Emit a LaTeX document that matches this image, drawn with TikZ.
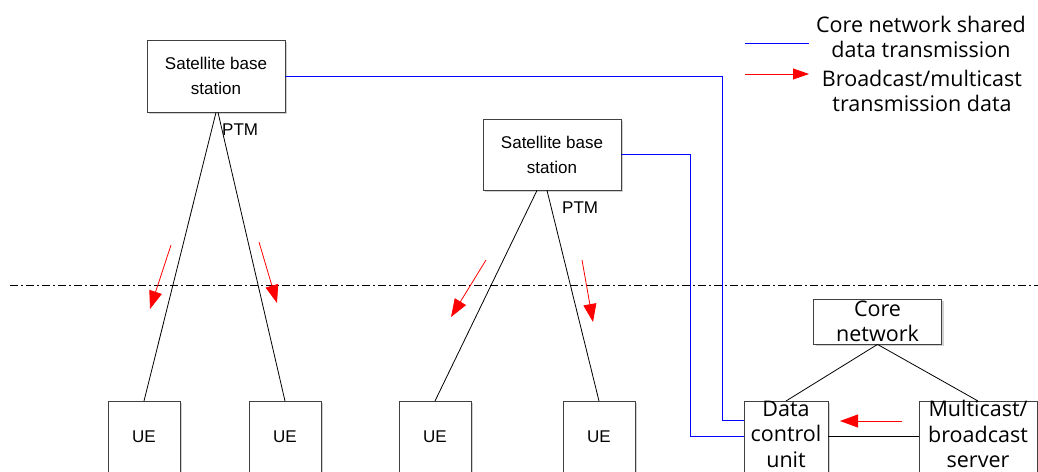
\documentclass[tikz,border=0pt]{standalone}
\usepackage{fontspec}
\setmainfont{Liberation Sans}
\newfontfamily\seg{Open Sans}
\usetikzlibrary{arrows.meta,shadows}
\begin{document}
\begin{tikzpicture}[x=1pt,y=-1pt,
 box/.style={draw=black!75, line width=0.8pt, fill=white, inner sep=0pt,
   drop shadow={shadow xshift=2pt,shadow yshift=-2pt,fill=black!18,opacity=1}},
 ar/.style={font=\fontsize{17}{25}\selectfont, align=center, inner sep=0pt},
 sg/.style={font=\seg\fontsize{21.5}{25.5}\selectfont, align=center, inner sep=0pt},
 ln/.style={line width=0.8pt, black},
 bl/.style={line width=0.8pt, blue},
 rd/.style={line width=0.8pt, red, -{Triangle[length=18pt,width=13pt]}},
 rdl/.style={line width=0.8pt, red, -{Triangle[length=16pt,width=11pt]}},
]
\useasboundingbox (0,0) rectangle (1038,471);

% boxes
\node[box, ar, minimum width=138pt, minimum height=72pt] (sb1) at (216,76) {Satellite base\\station};
\node[box, ar, minimum width=138pt, minimum height=71pt] (sb2) at (552,154.5) {Satellite base\\station};
\node[box, minimum width=72pt, minimum height=100pt, anchor=north] (ue1) at (144,401) {};
\node[box, minimum width=72pt, minimum height=100pt, anchor=north] (ue2) at (285,401) {};
\node[box, minimum width=72pt, minimum height=100pt, anchor=north] (ue3) at (435,401) {};
\node[box, minimum width=72pt, minimum height=100pt, anchor=north] (ue4) at (599,401) {};
\node[box, minimum width=128pt, minimum height=45pt] (cn) at (877.5,321.5) {};
\node[box, minimum width=84pt, minimum height=100pt, anchor=north] (dcu) at (786,401) {};
\node[box, minimum width=118pt, minimum height=100pt, anchor=north] (mbs) at (978,401) {};

% box texts
\node[ar] (t1) at (144,437) {UE};
\node[ar] (t2) at (285,437) {UE};
\node[ar] (t3) at (435,437) {UE};
\node[ar] (t4) at (599,437) {UE};
\node[sg] (tcn) at (877.5,321.5) {Core\\network};
\node[sg] (tdcu) at (786,434) {Data\\control\\unit};
\node[sg] (tmbs) at (978,434) {Multicast/\\broadcast\\server};

% PTM labels
\node[ar, anchor=west] (p1) at (222,130) {PTM};
\node[ar, anchor=west] (p2) at (562,208) {PTM};

% PTM lines
\draw[ln] (sb1.south) -- (ue1.north);
\draw[ln] ([xshift=2pt]sb1.south) -- (ue2.north);
\draw[ln] ([xshift=-15pt]sb2.south) -- (ue3.north);
\draw[ln] ([xshift=-5pt]sb2.south) -- (ue4.north);

% core network links
\draw[ln] (cn.south) -- (dcu.north);
\draw[ln] (cn.south) -- (mbs.north);
\coordinate (b1) at (722,420);
\coordinate (b2) at (690,436);
\draw[ln] (b2 -| dcu.east) -- (b2 -| mbs.west);

% blue links
\draw[bl] (sb1.east) -| (b1) -- (b1 -| dcu.west);
\draw[bl] (sb2.east) -| (b2) -- (b2 -| dcu.west);

% dash-dot boundary
\coordinate (d1) at (10,285);
\coordinate (d2) at (1038,285);
\draw[line width=0.7pt, black, dash pattern=on 8pt off 3pt on 2pt off 3pt] (d1) -- (d2);

% red arrows
\coordinate (a1s) at (171,245); \coordinate (a1e) at (150,309);
\coordinate (a2s) at (259,242); \coordinate (a2e) at (277,303);
\coordinate (a3s) at (486,260); \coordinate (a3e) at (451,317);
\coordinate (a4s) at (582,260); \coordinate (a4e) at (593,322);
\coordinate (a5s) at (902,421); \coordinate (a5e) at (840,421);
\draw[rd] (a1s) -- (a1e);
\draw[rd] (a2s) -- (a2e);
\draw[rd] (a3s) -- (a3e);
\draw[rd] (a4s) -- (a4e);
\draw[rd] (a5s) -- (a5e);

% legend
\coordinate (l1s) at (745,43); \coordinate (l1e) at (809,43);
\coordinate (l2s) at (745,74); \coordinate (l2e) at (809,74);
\draw[bl] (l1s) -- (l1e);
\draw[rdl] (l2s) -- (l2e);
\node[sg] (lg1) at (921,37) {Core network shared\\data transmission};
\node[sg] (lg2) at (922,91) {Broadcast/multicast\\transmission data};
\end{tikzpicture}
\end{document}
